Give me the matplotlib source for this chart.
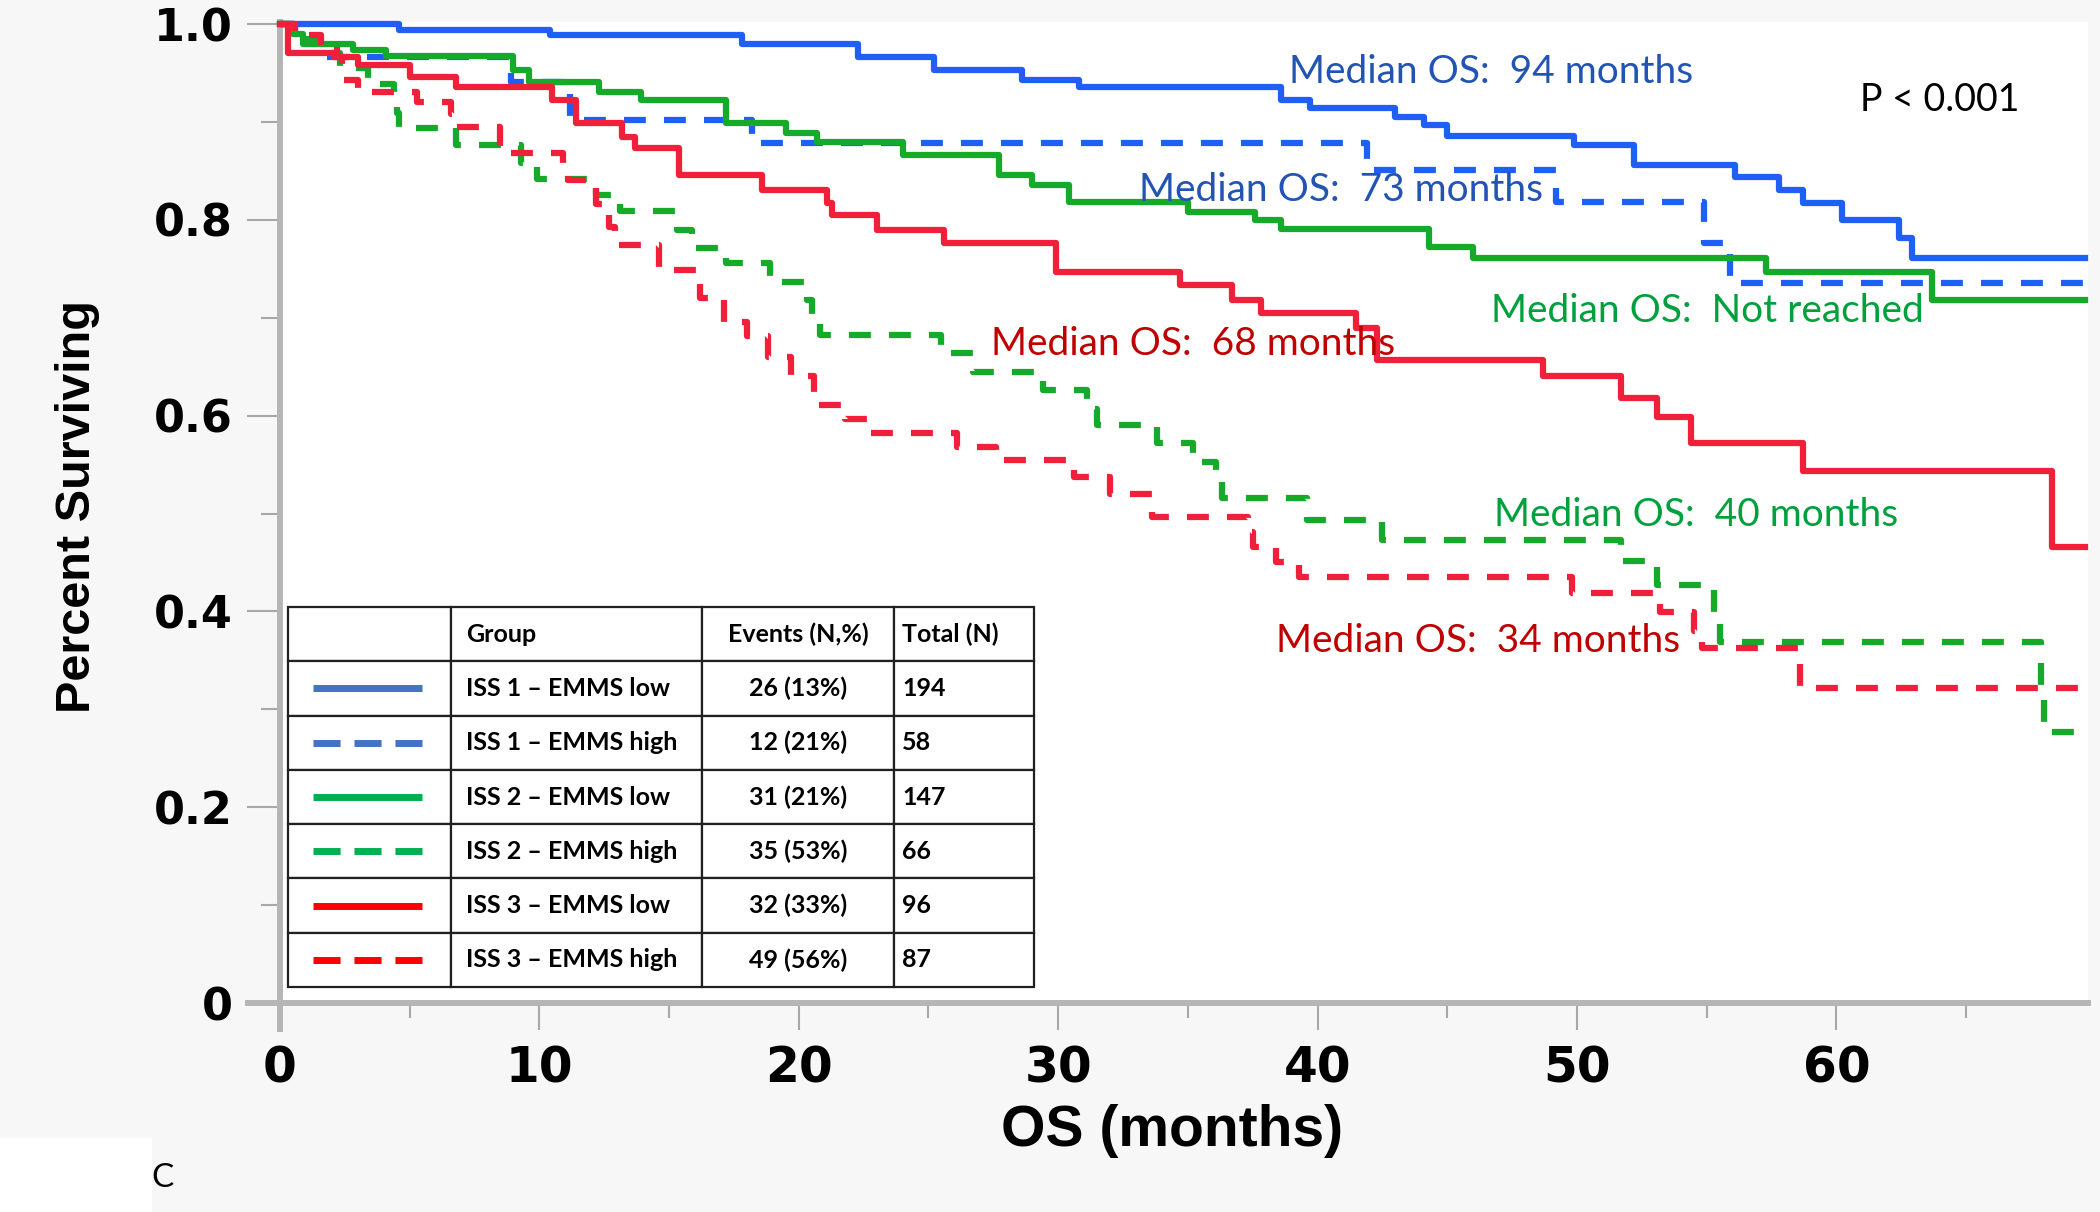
import matplotlib
matplotlib.use("Agg")
import matplotlib.pyplot as plt
from matplotlib.patches import Rectangle

# survival curves (months, fraction surviving)
blue_low_t = [0, 4.6, 10.4, 17.8, 22.3, 25.2, 28.6, 30.8, 38.6, 39.7, 43.0, 44.1, 45.0,
              49.9, 52.2, 56.1, 57.8, 58.7, 60.2, 62.4, 62.9, 69.6]
blue_low_s = [1.0, 0.994, 0.989, 0.980, 0.966, 0.953, 0.943, 0.936, 0.922, 0.914, 0.905, 0.897, 0.886,
              0.876, 0.856, 0.844, 0.830, 0.817, 0.800, 0.781, 0.761, 0.761]

blue_high_t = [0, 0.6, 1.6, 8.9, 11.2, 18.2, 41.9, 49.2, 54.9, 55.9, 69.6]
blue_high_s = [1.0, 0.983, 0.966, 0.941, 0.902, 0.878, 0.851, 0.818, 0.776, 0.735, 0.735]

green_low_t = [0, 0.5, 0.9, 2.8, 4.1, 9.0, 9.6, 12.3, 13.9, 17.2, 19.5, 20.7, 24.0, 27.7, 29.0,
               30.4, 35.0, 37.6, 38.6, 44.3, 46.0, 57.3, 63.7, 69.6]
green_low_s = [1.0, 0.990, 0.980, 0.973, 0.967, 0.953, 0.941, 0.931, 0.922, 0.899, 0.889, 0.880, 0.866,
               0.846, 0.836, 0.818, 0.808, 0.800, 0.791, 0.772, 0.761, 0.747, 0.718, 0.718]

green_high_t = [0, 0.5, 1.5, 2.3, 3.4, 4.4, 4.5, 4.6, 6.8, 9.3, 9.9, 12.2, 13.1, 15.3, 15.9, 17.2,
                18.9, 20.3, 20.5, 20.8, 25.5, 26.7, 29.4, 31.1, 31.5, 33.8, 35.2, 36.1, 36.3, 39.6,
                42.5, 51.7, 53.1, 55.3, 55.5, 67.9, 68.0, 69.6]
green_high_s = [1.0, 0.985, 0.970, 0.955, 0.939, 0.924, 0.909, 0.894, 0.876, 0.858, 0.842, 0.825,
                0.809, 0.790, 0.771, 0.756, 0.737, 0.718, 0.701, 0.682, 0.664, 0.645, 0.626, 0.607,
                0.590, 0.572, 0.553, 0.535, 0.516, 0.493, 0.473, 0.452, 0.427, 0.398, 0.369, 0.323,
                0.277, 0.277]

red_low_t = [0, 0.3, 2.1, 3.0, 5.0, 6.8, 10.5, 11.4, 13.2, 13.7, 15.4, 18.6, 21.1, 21.3, 23.0, 25.6,
             29.9, 34.7, 36.7, 37.8, 41.5, 42.3, 48.7, 51.7, 53.1, 54.4, 58.7, 68.3, 69.6]
red_low_s = [1.0, 0.970, 0.966, 0.958, 0.946, 0.936, 0.922, 0.899, 0.885, 0.873, 0.846, 0.830, 0.817,
             0.805, 0.790, 0.776, 0.747, 0.733, 0.718, 0.705, 0.689, 0.657, 0.640, 0.618, 0.599,
             0.572, 0.543, 0.466, 0.466]

red_high_t = [0, 0.6, 1.6, 2.2, 2.4, 3.0, 5.3, 6.6, 6.8, 8.5, 10.9, 11.1, 12.2, 12.7, 12.9, 14.6,
              16.2, 17.1, 18.0, 18.8, 19.7, 20.6, 21.8, 22.7, 26.1, 27.6, 30.6, 32.0, 33.6, 37.3,
              37.5, 38.4, 39.3, 49.8, 53.2, 54.5, 54.8, 58.6, 69.6]
red_high_s = [1.0, 0.989, 0.977, 0.966, 0.943, 0.931, 0.920, 0.908, 0.895, 0.868, 0.851, 0.841,
              0.816, 0.793, 0.774, 0.749, 0.720, 0.696, 0.681, 0.660, 0.640, 0.611, 0.597, 0.582,
              0.568, 0.555, 0.537, 0.520, 0.496, 0.481, 0.466, 0.450, 0.435, 0.419, 0.399, 0.380,
              0.363, 0.322, 0.322]

groups = ["ISS 1 \u2013 EMMS low", "ISS 1 \u2013 EMMS high", "ISS 2 \u2013 EMMS low",
          "ISS 2 \u2013 EMMS high", "ISS 3 \u2013 EMMS low", "ISS 3 \u2013 EMMS high"]
events = ["26 (13%)", "12 (21%)", "31 (21%)", "35 (53%)", "32 (33%)", "49 (56%)"]
totals = ["194", "58", "147", "66", "96", "87"]

medians = ["94 months", "73 months", "Not reached", "68 months", "40 months", "34 months"]

BLUE = "#1f5ff5"
GREEN = "#16aa2a"
RED = "#f0203a"
dash = (0, (3.5, 2.9))

fig = plt.figure(figsize=(21, 12.12), dpi=100, facecolor="#f7f7f7")
ax = fig.add_axes([0.1333, 0.1724, 0.8610, 0.8094])
ax.set_facecolor("white")
ax.set_xlim(0, 69.7)
ax.set_ylim(0, 1.002)

curves = [
    (blue_low_t, blue_low_s, BLUE, "-"),
    (blue_high_t, blue_high_s, BLUE, dash),
    (green_low_t, green_low_s, GREEN, "-"),
    (green_high_t, green_high_s, GREEN, dash),
    (red_low_t, red_low_s, RED, "-"),
    (red_high_t, red_high_s, RED, dash),
]
for t, s, c, ls in curves:
    ax.step(t, s, where="post", color=c, lw=4.5, ls=ls, zorder=3, clip_on=False)

# axis lines (JMP style, crossing past the origin)
for sp in ax.spines.values():
    sp.set_visible(False)
ax.plot([0, 0], [-0.026, 1.002], color="#b5b5b5", lw=4.3, clip_on=False, zorder=2)
ax.plot([-1.23, 69.7], [0, 0], color="#b5b5b5", lw=4.3, clip_on=False, zorder=2)

ax.set_yticks([0, 0.2, 0.4, 0.6, 0.8, 1.0])
ax.set_yticklabels(["0", "0.2", "0.4", "0.6", "0.8", "1.0"])
ax.set_yticks([0.1, 0.3, 0.5, 0.7, 0.9], minor=True)
ax.set_xticks(range(0, 61, 10))
ax.set_xticks(range(5, 66, 10), minor=True)
ax.tick_params(axis="y", which="major", length=24, width=1.5, color="#a8a8a8", pad=10)
ax.tick_params(axis="y", which="minor", length=14, width=1.5, color="#a8a8a8")
ax.tick_params(axis="x", which="major", length=19.5, width=1.5, color="#a8a8a8", pad=10)
ax.tick_params(axis="x", which="minor", length=11, width=1.5, color="#a8a8a8")
for lab in ax.get_yticklabels():
    lab.set_fontsize(32)
    lab.set_fontweight("bold")
for lab in ax.get_xticklabels():
    lab.set_fontsize(35)
    lab.set_fontweight("bold")

fig.text(0.037, 0.582, "Percent Surviving", rotation=90, ha="center", va="center",
         fontsize=35, fontweight="bold", family=["Liberation Sans", "DejaVu Sans"])
fig.text(0.558, 0.067, "OS (months)", ha="center", va="center",
         fontsize=41, fontweight="bold", family=["Liberation Sans", "DejaVu Sans"])

# median OS annotations
ann_font = ["Lato", "DejaVu Sans"]
ax.text(38.9, 0.951, "Median OS:  " + medians[0], color="#2254b4", fontsize=28, family=ann_font,
        va="center", zorder=6)
ax.text(33.1, 0.830, "Median OS:  " + medians[1], color="#2254b4", fontsize=28, family=ann_font,
        va="center", zorder=6)
ax.text(46.7, 0.707, "Median OS:  " + medians[2], color="#00a03c", fontsize=28, family=ann_font,
        va="center", zorder=6)
ax.text(27.4, 0.673, "Median OS:  " + medians[3], color="#c00000", fontsize=28, family=ann_font,
        va="center", zorder=6)
ax.text(46.8, 0.499, "Median OS:  " + medians[4], color="#00a03c", fontsize=28, family=ann_font,
        va="center", zorder=6)
ax.text(38.4, 0.370, "Median OS:  " + medians[5], color="#c00000", fontsize=28, family=ann_font,
        va="center", zorder=6)
ax.text(60.9, 0.922, "P < 0.001", color="black", fontsize=27, family=ann_font,
        va="center", zorder=6)

# event table with line samples
cell_text = [["", "Group", "Events (N,%)", "Total (N)"]]
for g, e, n in zip(groups, events, totals):
    cell_text.append(["", g, e, n])
tb_x, tb_y, tb_w, tb_h = 0.0044, 0.0163, 0.4126, 0.3874
tbl = ax.table(cellText=cell_text, colWidths=[0.2185, 0.3365, 0.2574, 0.1877],
               bbox=[tb_x, tb_y, tb_w, tb_h], cellLoc="left", zorder=5)
tbl.auto_set_font_size(False)
for (r, c), cell in tbl.get_celld().items():
    cell.set_edgecolor("#202020")
    cell.set_linewidth(1.6)
    cell.set_facecolor("white")
    txt = cell.get_text()
    txt.set_fontsize(18)
    txt.set_fontweight("bold")
    txt.set_family(ann_font)
    if c == 2:
        txt.set_ha("center")
        cell._loc = "center"
    if c == 1 or c == 3:
        cell.PAD = 0.06

sample_colors = ["#4472c4", "#4472c4", "#00b050", "#00b050", "#ff0000", "#ff0000"]
sample_styles = ["-", (0, (3.9, 2.0)), "-", (0, (3.9, 2.0)), "-", (0, (3.9, 2.0))]
row_h = tb_h / 7
for k in range(6):
    yc = tb_y + tb_h - (k + 1.5) * row_h
    ax.plot([0.0183, 0.0785], [yc, yc], transform=ax.transAxes, color=sample_colors[k],
            ls=sample_styles[k], lw=5, solid_capstyle="butt", dash_capstyle="butt",
            zorder=7, clip_on=False)

# panel letter
fig.patches.append(Rectangle((0, 0), 152 / 2100, 74 / 1212, transform=fig.transFigure,
                             facecolor="white", edgecolor="none", zorder=0))
fig.text(0.0776, 0.028, "C", fontsize=24, family=ann_font, ha="center", va="center")

fig.savefig("out.png", dpi=100, facecolor=fig.get_facecolor())
